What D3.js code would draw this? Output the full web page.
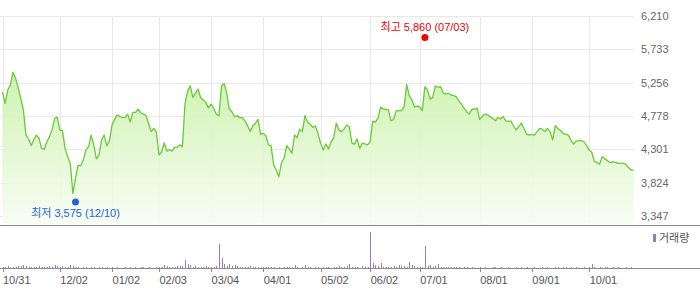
<!DOCTYPE html>
<html>
<head>
<meta charset="utf-8">
<script src="https://cdn.jsdelivr.net/npm/d3@7"></script>
<style>
  body { margin: 0; background: #fff; }
  svg { display: block; font-family: "Liberation Sans", Arial, "Noto Sans CJK KR", sans-serif; font-size: 11px; }
</style>
</head>
<body>
<div id="chart"></div>
<script>
// daily closing prices
var prices = [
  5120, 4960, 5150, 5220, 5405, 5320, 5185, 5030, 4865, 4505,
  4450, 4355, 4435, 4505, 4460, 4315, 4300, 4410, 4480, 4580,
  4745, 4760, 4580, 4570, 4315, 4195, 4100, 3670, 3885, 4075,
  4065, 4150, 4290, 4340, 4505, 4365, 4165, 4220, 4435, 4505,
  4350, 4420, 4650, 4730, 4795, 4770, 4760, 4755, 4805, 4695,
  4830, 4830, 4875, 4825, 4805, 4785, 4675, 4555, 4600, 4555,
  4220, 4260, 4395, 4275, 4300, 4275, 4330, 4330, 4365, 4340,
  4960, 5135, 5210, 5045, 5105, 5165, 5040, 5010, 4970, 4895,
  4950, 4890, 4805, 4780, 5210, 5245, 5105, 4875, 4840, 4770,
  4780, 4755, 4755, 4705, 4640, 4555, 4635, 4675, 4730, 4515,
  4530, 4495, 4365, 4355, 4075, 4005, 3910, 4110, 4175, 4355,
  4305, 4245, 4505, 4470, 4590, 4555, 4785, 4690, 4660, 4615,
  4635, 4530, 4390, 4290, 4380, 4305, 4410, 4460, 4675, 4580,
  4555, 4590, 4650, 4625, 4390, 4375, 4450, 4315, 4390, 4380,
  4365, 4410, 4705, 4690, 4745, 4905, 4880, 4875, 4865, 4710,
  4730, 4850, 4855, 4855, 4910, 5230, 5070, 5010, 4910, 4920,
  4905, 4855, 5200, 5150, 5020, 5045, 5210, 5190, 5200, 5110,
  5090, 5105, 5080, 5070, 5055, 4995, 4950, 4890, 4840, 4805,
  4875, 4875, 4890, 4730, 4770, 4805, 4795, 4770, 4745, 4710,
  4755, 4735, 4770, 4710, 4705, 4705, 4635, 4580, 4625, 4675,
  4600, 4520, 4505, 4515, 4505, 4555, 4600, 4590, 4555, 4600,
  4555, 4435, 4640, 4600, 4570, 4530, 4515, 4505, 4435, 4375,
  4420, 4425, 4425, 4410, 4355, 4290, 4260, 4125, 4115, 4090,
  4195, 4165, 4140, 4110, 4125, 4115, 4100, 4100, 4100, 4090,
  4045, 4005, 4005
];

// daily volume (relative units)
var volumes = [
  40, 35, 45, 40, 35, 40, 50, 45, 75, 45,
  40, 35, 30, 40, 45, 40, 35, 40, 45, 40,
  70, 45, 40, 50, 40, 35, 75, 45, 40, 35,
  0, 40, 35, 0, 40, 30, 0, 35, 40, 0,
  35, 0, 30, 0, 35, 0, 0, 30, 0, 35,
  0, 30, 0, 35, 40, 0, 30, 0, 0, 40,
  35, 40, 90, 45, 40, 35, 40, 45, 50, 60,
  220, 110, 85, 40, 45, 40, 35, 40, 45, 40,
  35, 40, 50, 670, 290, 120, 60, 105, 50, 85,
  45, 40, 40, 35, 40, 45, 35, 40, 35, 40,
  35, 40, 30, 35, 40, 0, 35, 0, 40, 35,
  30, 40, 80, 35, 0, 40, 70, 35, 40, 0,
  35, 40, 0, 30, 35, 40, 0, 35, 40, 45,
  35, 40, 45, 120, 35, 40, 30, 0, 45, 40,
  35, 1000, 150, 80, 45, 150, 40, 35, 40, 40,
  45, 40, 80, 45, 60, 40, 175, 95, 45, 40,
  35, 40, 611, 60, 85, 40, 45, 100, 40, 35,
  40, 35, 40, 35, 40, 35, 0, 40, 35, 0,
  35, 0, 0, 40, 0, 35, 0, 0, 40, 35,
  0, 35, 0, 0, 40, 0, 0, 35, 0, 40,
  0, 35, 0, 0, 40, 0, 0, 35, 0, 40,
  0, 0, 40, 35, 0, 40, 35, 0, 40, 0,
  35, 0, 0, 40, 0, 35, 100, 40, 0, 35,
  0, 40, 35, 0, 40, 0, 35, 0, 0, 40,
  0, 35, 0
];

// x axis: day index of each label
var tickIdx = [0, 22, 42, 60, 80, 100, 122, 141, 160, 183, 203, 225];
var tickLabels = ["10/31", "12/02", "01/02", "02/03", "03/04", "04/01",
                  "05/02", "06/02", "07/01", "08/01", "09/01", "10/01"];

// y axis labels
var priceTicks = [3347, 3824, 4301, 4778, 5256, 5733, 6210];

// high / low markers
var markNames = ["최고", "최저"];
var markIdx = [162, 28];
var markValues = [5860, 3575];
var markDates = ["07/03", "12/10"];

var width = 700;
var height = 289;

var plotLeft = 2.5;
var plotRight = 633.5;
var priceBottom = 225;
var volBase = 268;

var svg = d3
  .select("#chart")
  .append("svg")
  .attr("width", width)
  .attr("height", height);

var x = d3.scaleLinear()
  .domain([0, prices.length - 1])
  .range([plotLeft, plotRight]);

var y = d3.scaleLinear()
  .domain([3347, 6210])
  .range([216, 16]);

var yVol = d3.scaleLinear()
  .domain([0, 1000])
  .range([volBase, 232]);

// gradient for the area
var grad = svg.append("defs")
  .append("linearGradient")
  .attr("id", "fillGrad")
  .attr("gradientUnits", "userSpaceOnUse")
  .attr("x1", 0).attr("y1", 70)
  .attr("x2", 0).attr("y2", priceBottom);
grad.append("stop").attr("offset", 0).attr("stop-color", "#c8f1a6");
grad.append("stop").attr("offset", 1).attr("stop-color", "#f8fdf4");

// grid
var grid = svg.append("g").attr("shape-rendering", "crispEdges");
grid.selectAll("line.h")
  .data(priceTicks)
  .enter()
  .append("line")
  .attr("class", "h")
  .attr("x1", 0)
  .attr("x2", 634)
  .attr("y1", function(d) { return Math.round(y(d)) + 0.5; })
  .attr("y2", function(d) { return Math.round(y(d)) + 0.5; })
  .attr("stroke", "#e8e8e8");
grid.selectAll("line.v")
  .data(tickIdx)
  .enter()
  .append("line")
  .attr("class", "v")
  .attr("x1", function(d) { return Math.round(x(d)) + 0.5; })
  .attr("x2", function(d) { return Math.round(x(d)) + 0.5; })
  .attr("y1", 16)
  .attr("y2", priceBottom)
  .attr("stroke", "#e8e8e8");

// price area + line
var area = d3.area()
  .x(function(d, i) { return x(i); })
  .y0(priceBottom)
  .y1(function(d) { return y(d); });

var line = d3.line()
  .x(function(d, i) { return x(i); })
  .y(function(d) { return y(d); });

svg.append("path")
  .datum(prices)
  .attr("d", area)
  .attr("fill", "url(#fillGrad)")
  .attr("opacity", 0.9);

svg.append("path")
  .datum(prices)
  .attr("d", line)
  .attr("fill", "none")
  .attr("stroke", "#6bc936")
  .attr("stroke-width", 1.3)
  .attr("stroke-linejoin", "round");

// right axis labels
var yAxis = d3.axisRight(y)
  .tickValues(priceTicks)
  .tickSize(0)
  .tickPadding(0)
  .tickFormat(d3.format(","));

var yAxisG = svg.append("g")
  .attr("transform", "translate(641,0)")
  .call(yAxis);
yAxisG.select(".domain").remove();
yAxisG.selectAll("text")
  .attr("fill", "#666")
  .style("font-size", "11px")
  .style("font-family", "Liberation Sans, Arial, sans-serif");

// separators
svg.append("line")
  .attr("x1", 0).attr("x2", width)
  .attr("y1", priceBottom + 0.5).attr("y2", priceBottom + 0.5)
  .attr("stroke", "#8c8c8c");

// volume bars
svg.append("g")
  .attr("shape-rendering", "crispEdges")
  .selectAll("rect")
  .data(volumes)
  .enter()
  .append("rect")
  .attr("x", function(d, i) { return Math.round(x(i)); })
  .attr("width", 1)
  .attr("y", function(d) { return yVol(d); })
  .attr("height", function(d) { return volBase - yVol(d); })
  .attr("fill", "#9280c6");

// bottom axis
var xAxis = d3.axisBottom(x)
  .tickValues(tickIdx)
  .tickSize(4)
  .tickFormat(function(d, i) { return tickLabels[i]; });

var xAxisG = svg.append("g")
  .attr("transform", "translate(0," + volBase + ")")
  .call(xAxis);
xAxisG.select(".domain").remove();
xAxisG.selectAll(".tick line")
  .attr("stroke", "#9280c6")
  .attr("shape-rendering", "crispEdges");
xAxisG.selectAll(".tick text")
  .attr("text-anchor", "start")
  .attr("x", 0)
  .attr("y", 16)
  .attr("dy", 0)
  .attr("fill", "#555")
  .style("font-size", "11px")
  .style("font-family", "Liberation Sans, Arial, sans-serif");

svg.append("line")
  .attr("x1", 0).attr("x2", width)
  .attr("y1", volBase + 0.5).attr("y2", volBase + 0.5)
  .attr("stroke", "#8c8c8c");

// legend
svg.append("rect")
  .attr("x", 653).attr("y", 234)
  .attr("width", 3).attr("height", 8)
  .attr("fill", "#9280c6");
svg.append("text")
  .attr("x", 659).attr("y", 242)
  .attr("fill", "#555")
  .style("font-family", "Noto Sans CJK KR, sans-serif")
  .style("font-size", "11px")
  .text("거래량");

// high / low markers
var markColors = ["#f00000", "#1d63d6"];
var markShift = [-3, 2];
markNames.forEach(function(name, k) {
  var cx = x(markIdx[k]);
  var cy = y(markValues[k]) + markShift[k];
  svg.append("circle")
    .attr("cx", cx)
    .attr("cy", cy)
    .attr("r", 3.5)
    .attr("fill", markColors[k]);
  svg.append("text")
    .attr("x", cx)
    .attr("y", k === 0 ? cy - 6 : cy + 15)
    .attr("text-anchor", "middle")
    .attr("fill", markColors[k])
    .style("font-size", "11px")
    .text(name + " " + d3.format(",")(markValues[k]) + " (" + markDates[k] + ")");
});
</script>
</body>
</html>
